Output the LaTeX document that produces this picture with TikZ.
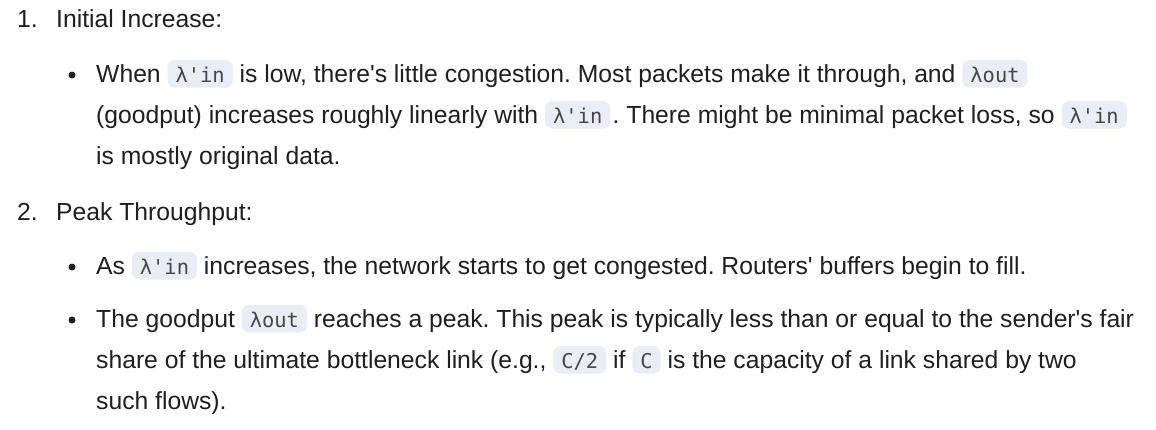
\documentclass[tikz,border=0pt]{standalone}
\usepackage{fontspec}
\setmainfont{Liberation Sans}[Ligatures=TeXOff]
\newfontfamily\chipfamily{DejaVu Sans Mono}[Ligatures=TeXOff]
\usetikzlibrary{positioning}
\definecolor{ink}{HTML}{1F1F1F}
\definecolor{chipbg}{HTML}{E9EEF6}
\definecolor{chipfg}{HTML}{444746}
\frenchspacing

\begin{document}
\begin{tikzpicture}[x=1pt,y=-1pt,node distance=6.5pt,
    txt/.style={inner sep=0pt,anchor=base west,text=ink,font=\fontsize{24.7}{30}\selectfont},
    chip/.style={fill=chipbg,text=chipfg,rounded corners=7pt,inner xsep=8pt,inner ysep=4pt,
      text height=18pt,text depth=1.5pt,font=\chipfamily\fontsize{20.4}{24}\selectfont},
    dot/.style={circle,fill=ink,inner sep=0pt,minimum size=7pt}]
    \useasboundingbox[fill=white] (0,0) rectangle (1156,429);
    % item 1
    \node[txt] (n1) at (17,27) {1.};
    \node[txt] (h1) at (56,27) {Initial Increase:};
    \node[dot] (d1) at (72,75) {};
    \node[txt] (a1) at (96,82) {When};
    \node[chip, base right=of a1] (c1) {λ'in};
    \node[txt, base right=of c1] (a2) {is low, there's little congestion. Most packets make it through, and};
    \node[chip, base right=of a2] (c2) {λout};
    \node[txt] (b1) at (96,123) {(goodput) increases roughly linearly with};
    \node[chip, base right=of b1] (c3) {λ'in};
    \node[txt, base right=2pt of c3] (b2) {. There might be minimal packet loss, so};
    \node[chip, base right=of b2] (c4) {λ'in};
    \node[txt] (e1) at (96,164) {is mostly original data.};
    % item 2
    \node[txt] (n2) at (17,220) {2.};
    \node[txt] (h2) at (56,220) {Peak Throughput:};
    \node[dot] (d2) at (72,267) {};
    \node[txt] (f1) at (96,274) {As};
    \node[chip, base right=of f1] (c5) {λ'in};
    \node[txt, base right=of c5] (f2) {increases, the network starts to get congested. Routers' buffers begin to fill.};
    \node[dot] (d3) at (72,320) {};
    \node[txt] (g1) at (96,327) {The goodput};
    \node[chip, base right=of g1] (c6) {λout};
    \node[txt, base right=of c6] (g2) {reaches a peak. This peak is typically less than or equal to the sender's fair};
    \node[txt] (k1) at (96,368) {share of the ultimate bottleneck link (e.g.,};
    \node[chip, base right=of k1] (c7) {C/2};
    \node[txt, base right=of c7] (k2) {if};
    \node[chip, base right=of k2] (c8) {C};
    \node[txt, base right=of c8] (k3) {is the capacity of a link shared by two};
    \node[txt] (m1) at (96,409) {such flows).};
\end{tikzpicture}
\end{document}
